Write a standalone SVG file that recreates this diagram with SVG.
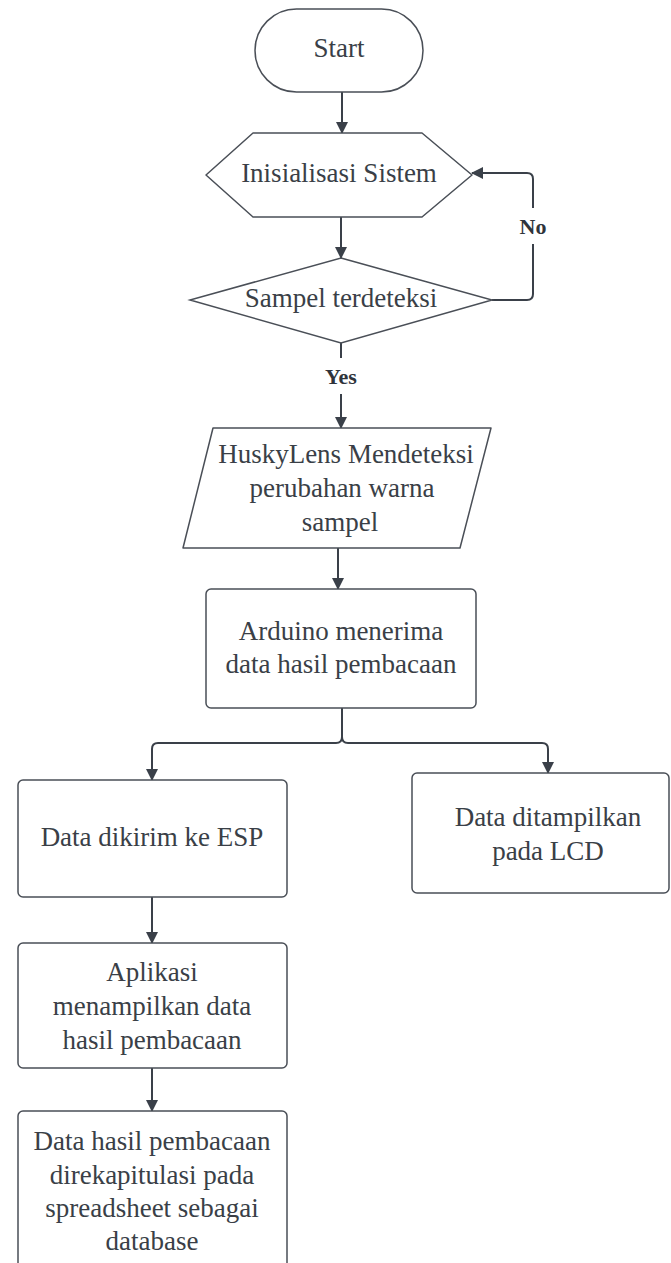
<svg xmlns="http://www.w3.org/2000/svg" width="671" height="1263" viewBox="0 0 671 1263">
<style>
.s{fill:#ffffff;stroke:#4a4f57;stroke-width:1.5}
.t{font-family:"Liberation Serif",serif;font-size:27px;fill:#3a3f47;text-anchor:middle}
.b{font-family:"Liberation Serif",serif;font-size:22px;font-weight:bold;fill:#2f343b;text-anchor:middle}
.c{fill:none;stroke:#3a4049;stroke-width:2}
</style>
<defs>
<marker id="ah" markerWidth="12" markerHeight="14" refX="11" refY="6" orient="auto" markerUnits="userSpaceOnUse">
<path d="M0,0 L12,6 L0,12 Z" fill="#3a4049"/>
</marker>
</defs>
<rect width="671" height="1263" fill="#ffffff"/>
<g id="connectors">
<path class="c" d="M342,92 V133" marker-end="url(#ah)"/>
<path class="c" d="M341,217 V258" marker-end="url(#ah)"/>
<path class="c" d="M492,300 H527 Q533,300 533,294 V179 Q533,173 527,173 H472" marker-end="url(#ah)"/>
<path class="c" d="M341,343 V428" marker-end="url(#ah)"/>
<path class="c" d="M338,548 V589" marker-end="url(#ah)"/>
<path class="c" d="M342,708 V737 Q342,743 336,743 H158 Q152,743 152,749 V780" marker-end="url(#ah)"/>
<path class="c" d="M342,708 V737 Q342,743 348,743 H542 Q548,743 548,749 V773" marker-end="url(#ah)"/>
<path class="c" d="M152,897 V943" marker-end="url(#ah)"/>
<path class="c" d="M152,1068 V1111" marker-end="url(#ah)"/>
<rect x="514" y="208" width="38" height="36" fill="#ffffff"/>
<text class="b" x="533" y="234">No</text>
<rect x="318" y="358" width="46" height="36" fill="#ffffff"/>
<text class="b" x="341" y="384">Yes</text>
</g>
<g id="start">
<rect class="s" x="255" y="9" width="168" height="83" rx="41.5"/>
<text class="t" x="339" y="57">Start</text>
</g>
<g id="init">
<polygon class="s" points="206,175 253,133 422,133 472,175 422,217 253,217" stroke-linejoin="round"/>
<text class="t" x="339" y="182">Inisialisasi Sistem</text>
</g>
<g id="decision">
<polygon class="s" points="341,258 492,300 341,343 190,300"/>
<text class="t" x="341" y="307">Sampel terdeteksi</text>
</g>
<g id="husky">
<polygon class="s" points="213,428 491,428 460,548 183,548" stroke-linejoin="round"/>
<text class="t" x="346" y="463">HuskyLens Mendeteksi</text>
<text class="t" x="342" y="497">perubahan warna</text>
<text class="t" x="340" y="531">sampel</text>
</g>
<g id="arduino">
<rect class="s" x="206" y="589" width="270" height="119" rx="5"/>
<text class="t" x="341" y="640">Arduino menerima</text>
<text class="t" x="341" y="673">data hasil pembacaan</text>
</g>
<g id="esp">
<rect class="s" x="18" y="780" width="269" height="117" rx="5"/>
<text class="t" x="152" y="846">Data dikirim ke ESP</text>
</g>
<g id="lcd">
<rect class="s" x="412" y="773" width="257" height="120" rx="5"/>
<text class="t" x="548" y="826">Data ditampilkan</text>
<text class="t" x="548" y="860">pada LCD</text>
</g>
<g id="aplikasi">
<rect class="s" x="18" y="943" width="269" height="125" rx="5"/>
<text class="t" x="152" y="981">Aplikasi</text>
<text class="t" x="152" y="1015">menampilkan data</text>
<text class="t" x="152" y="1049">hasil pembacaan</text>
</g>
<g id="rekap">
<rect class="s" x="18" y="1111" width="269" height="170" rx="5"/>
<text class="t" x="152" y="1150">Data hasil pembacaan</text>
<text class="t" x="152" y="1184">direkapitulasi pada</text>
<text class="t" x="152" y="1217">spreadsheet sebagai</text>
<text class="t" x="152" y="1250">database</text>
</g>
</svg>
